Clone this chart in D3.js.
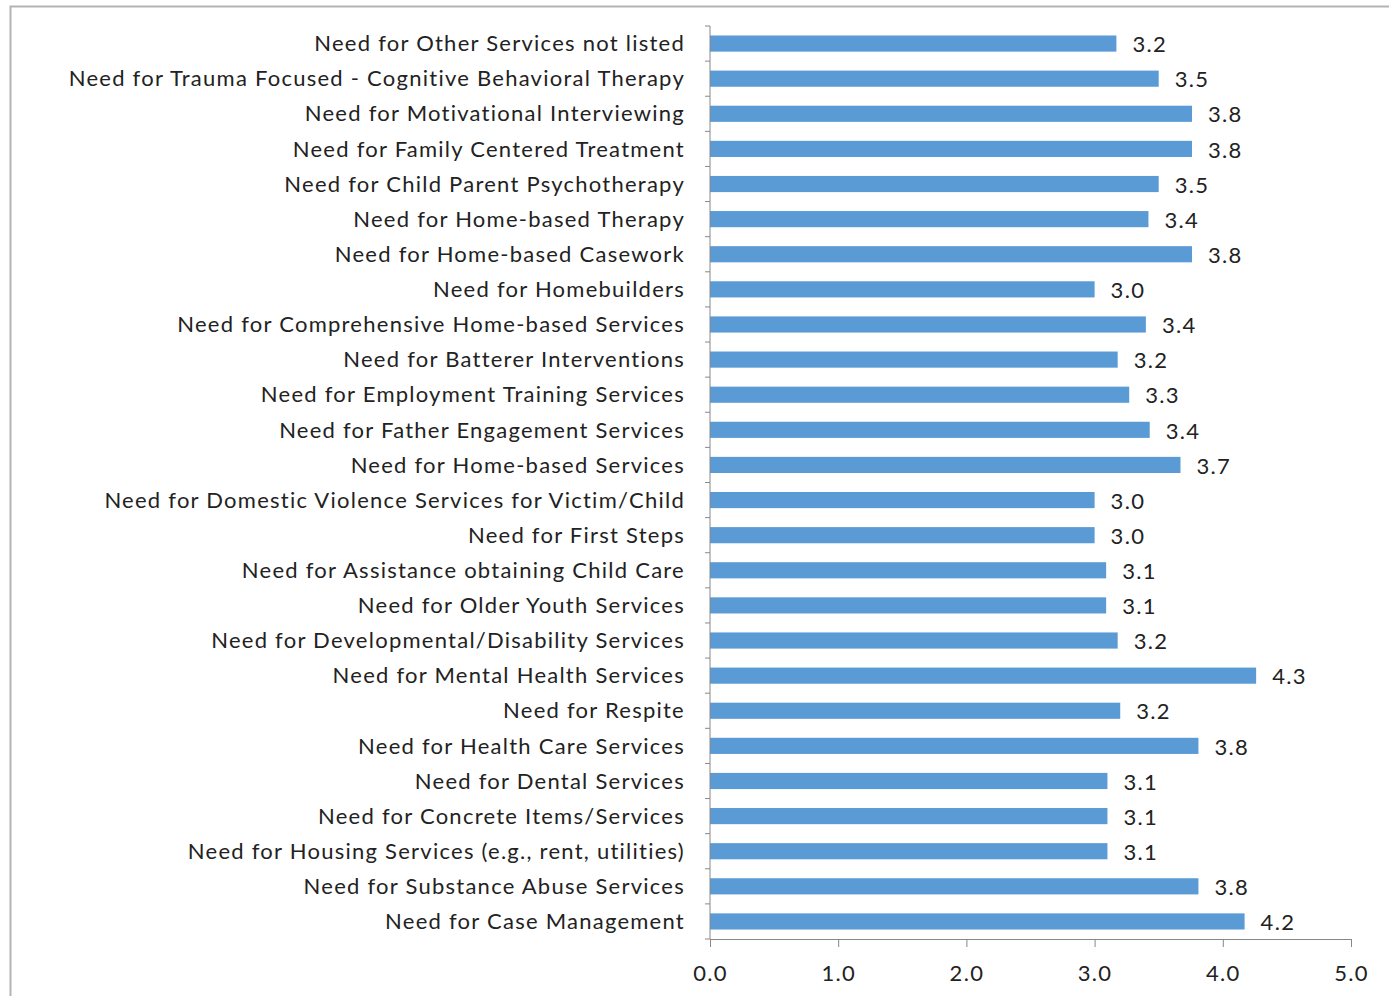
<!DOCTYPE html>
<html>
<head>
<meta charset="utf-8">
<script src="https://cdn.jsdelivr.net/npm/d3@7"></script>
<style>
  html, body { margin: 0; padding: 0; background: #fff; }
  svg { display: block; }
</style>
</head>
<body>
<div id="chart"></div>
<script>
// Categories top to bottom, as they appear in the chart.
const categories = [
  'Need for Other Services not listed',
  'Need for Trauma Focused - Cognitive Behavioral Therapy',
  'Need for Motivational Interviewing',
  'Need for Family Centered Treatment',
  'Need for Child Parent Psychotherapy',
  'Need for Home-based Therapy',
  'Need for Home-based Casework',
  'Need for Homebuilders',
  'Need for Comprehensive Home-based Services',
  'Need for Batterer Interventions',
  'Need for Employment Training Services',
  'Need for Father Engagement Services',
  'Need for Home-based Services',
  'Need for Domestic Violence Services for Victim/Child',
  'Need for First Steps',
  'Need for Assistance obtaining Child Care',
  'Need for Older Youth Services',
  'Need for Developmental/Disability Services',
  'Need for Mental Health Services',
  'Need for Respite',
  'Need for Health Care Services',
  'Need for Dental Services',
  'Need for Concrete Items/Services',
  'Need for Housing Services (e.g., rent, utilities)',
  'Need for Substance Abuse Services',
  'Need for Case Management',
];

// Mean rating per category (labels show one decimal).
const values = [
  3.17, 3.50, 3.76, 3.76, 3.50, 3.42, 3.76, 3.00, 3.40, 3.18, 3.27, 3.43, 3.67,
  3.00, 3.00, 3.09, 3.09, 3.18, 4.26, 3.20, 3.81, 3.10, 3.10, 3.10, 3.81, 4.17,
];

const xTicks = [0, 1, 2, 3, 4, 5];

const data = categories.map((name, i) => ({ name, value: values[i] }));

const FONT = 'Lato, "Open Sans", sans-serif';
const TEXT_COLOR = '#222';

const width = 1389;
const height = 996;
const margin = { top: 26, right: 38, bottom: 57, left: 710 };
const innerWidth = width - margin.left - margin.right;
const innerHeight = height - margin.top - margin.bottom;

const svg = d3.select('#chart').append('svg')
  .attr('width', width)
  .attr('height', height);

// chart area border: only its top and left edges fall inside the picture
svg.append('path')
  .attr('d', `M10.5,${height}V6.5H${width}`)
  .attr('fill', 'none')
  .attr('stroke', '#b4b4b4')
  .attr('stroke-width', 2);

const g = svg.append('g').attr('transform', `translate(${margin.left},${margin.top})`);

const x = d3.scaleLinear().domain([0, 5]).range([0, innerWidth]);
const y = d3.scaleBand().domain(categories).range([0, innerHeight]).paddingInner(0.54).paddingOuter(0.27);

// bars
g.selectAll('rect.bar')
  .data(data)
  .join('rect')
  .attr('class', 'bar')
  .attr('x', 0)
  .attr('y', (d) => y(d.name))
  .attr('width', (d) => x(d.value))
  .attr('height', y.bandwidth())
  .attr('fill', '#5b9bd5');

// value labels
g.selectAll('text.value')
  .data(data)
  .join('text')
  .attr('class', 'value')
  .attr('x', (d) => x(d.value) + 16)
  .attr('y', (d) => y(d.name) + y.bandwidth() / 2 + 1)
  .attr('dy', '0.35em')
  .attr('font-family', FONT)
  .attr('font-size', 22)
  .attr('letter-spacing', 1.3)
  .attr('fill', TEXT_COLOR)
  .text((d) => d3.format('.1f')(d.value));

// x axis
const xAxis = g.append('g')
  .attr('transform', `translate(0,${innerHeight})`)
  .call(d3.axisBottom(x).tickValues(xTicks).tickFormat(d3.format('.1f')).tickSize(8).tickPadding(18));
xAxis.attr('font-family', FONT).attr('font-size', 22);
xAxis.select('.domain').attr('stroke', '#888');
xAxis.selectAll('.tick line').attr('stroke', '#888');
xAxis.selectAll('.tick text')
  .attr('letter-spacing', 1.3)
  .attr('fill', TEXT_COLOR);

// y axis: line plus Excel-style ticks at category boundaries
const rowH = innerHeight / categories.length;
const boundaries = d3.range(categories.length + 1).map((i) => i * rowH);
g.append('line')
  .attr('x1', 0).attr('x2', 0)
  .attr('y1', 0).attr('y2', innerHeight)
  .attr('stroke', '#888');
g.selectAll('line.ytick')
  .data(boundaries)
  .join('line')
  .attr('class', 'ytick')
  .attr('x1', -5).attr('x2', 0)
  .attr('y1', (d) => d).attr('y2', (d) => d)
  .attr('stroke', '#888');

// category labels
g.selectAll('text.cat')
  .data(data)
  .join('text')
  .attr('class', 'cat')
  .attr('x', -25)
  .attr('y', (d) => y(d.name) + y.bandwidth() / 2)
  .attr('dy', '0.35em')
  .attr('text-anchor', 'end')
  .attr('font-family', FONT)
  .attr('font-size', 22)
  .attr('letter-spacing', 1.25)
  .attr('fill', TEXT_COLOR)
  .text((d) => d.name);
</script>
</body>
</html>
